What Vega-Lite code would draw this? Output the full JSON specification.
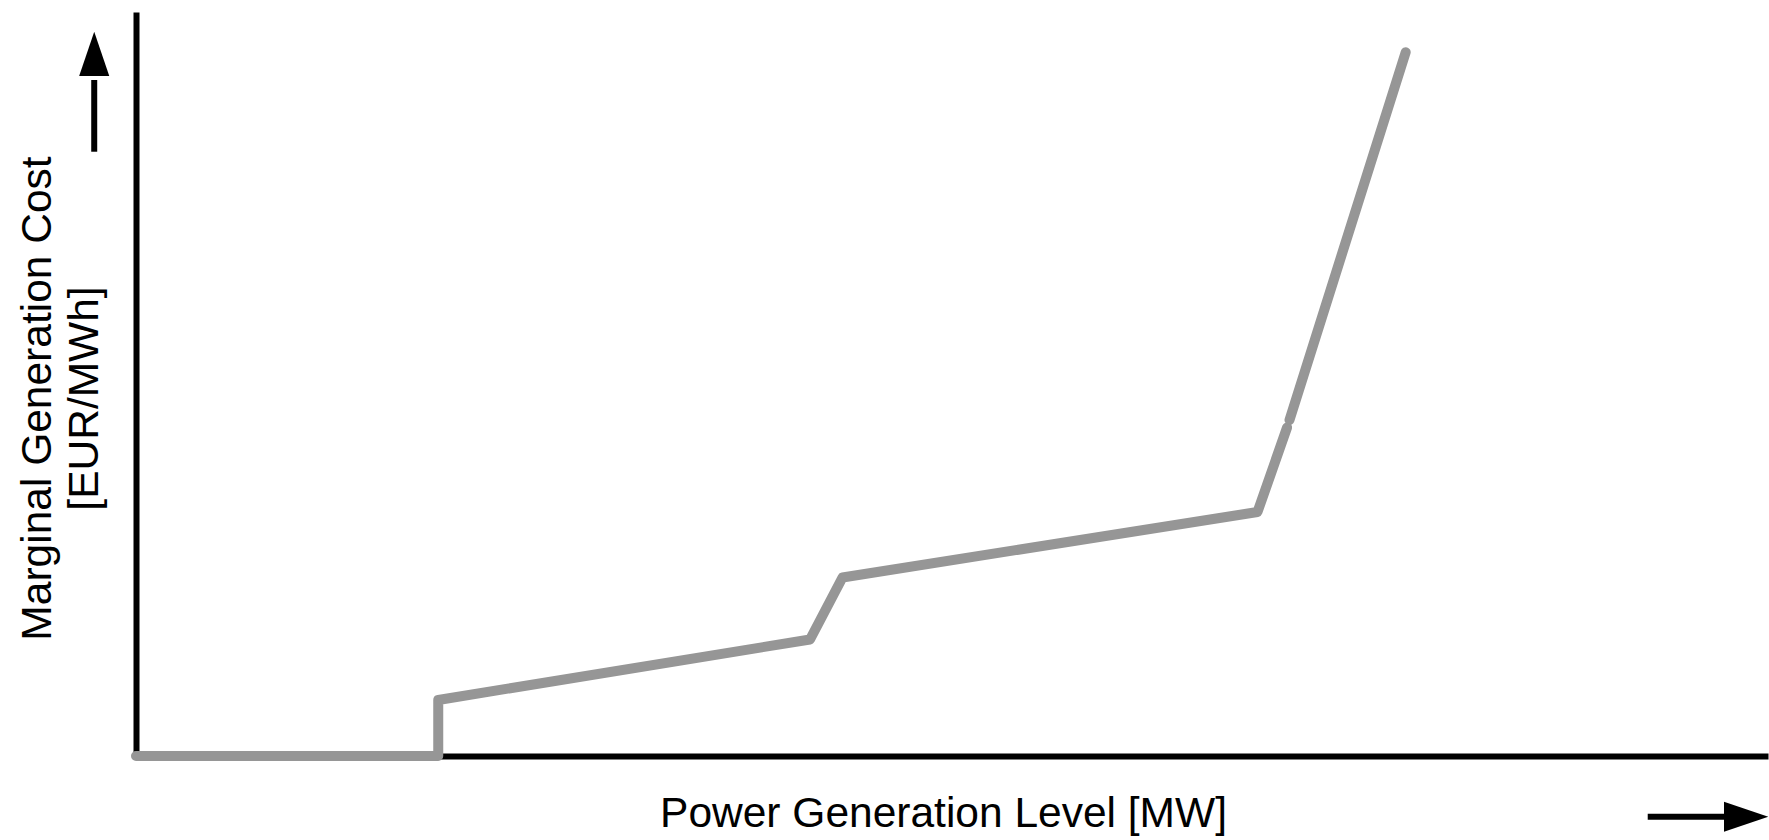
{
  "$schema": "https://vega.github.io/schema/vega-lite/v6.json",
  "width": 1632,
  "height": 744,
  "autosize": {"type": "none"},
  "padding": {"left": 136, "top": 12, "right": 1, "bottom": 84},
  "background": "white",
  "config": {
    "view": {"stroke": null},
    "axis": {
      "domain": true,
      "domainColor": "black",
      "domainWidth": 6,
      "ticks": false,
      "labels": false,
      "grid": false,
      "titleFont": "Liberation Sans",
      "titleFontWeight": "normal",
      "titleColor": "black",
      "titleFontSize": 42.5
    }
  },
  "data": {
    "values": [
      {"part": "curve", "seg": "a", "i": 1, "x": 0, "y": 0},
      {"part": "curve", "seg": "a", "i": 2, "x": 18.52, "y": 0},
      {"part": "curve", "seg": "a", "i": 3, "x": 18.52, "y": 7.53},
      {"part": "curve", "seg": "a", "i": 4, "x": 41.3, "y": 15.66},
      {"part": "curve", "seg": "a", "i": 5, "x": 43.29, "y": 23.99},
      {"part": "curve", "seg": "a", "i": 6, "x": 68.72, "y": 32.8},
      {"part": "curve", "seg": "a", "i": 7, "x": 70.53, "y": 44.15},
      {"part": "curve", "seg": "b", "i": 8, "x": 70.68, "y": 45.16},
      {"part": "curve", "seg": "b", "i": 9, "x": 77.8, "y": 94.6},
      {"part": "upShaft", "x": -2.56, "y": 81.22, "y2": 90.86},
      {"part": "upHead", "x": -2.56, "y": 94.38},
      {"part": "rightShaft", "x": 92.63, "x2": 97.55, "y": -8.16},
      {"part": "rightHead", "x": 98.66, "y": -8.16}
    ]
  },
  "encoding": {
    "x": {
      "field": "x",
      "type": "quantitative",
      "scale": {"domain": [0, 100], "nice": false, "zero": false},
      "axis": {
        "title": "Power Generation Level [MW]",
        "titleX": 807,
        "titleY": 70,
        "titleAlign": "center",
        "titleBaseline": "alphabetic"
      }
    },
    "y": {
      "field": "y",
      "type": "quantitative",
      "scale": {"domain": [0, 100], "nice": false, "zero": false},
      "axis": {
        "title": ["Marginal Generation Cost", "[EUR/MWh]"],
        "titleAngle": -90,
        "titleX": -85.5,
        "titleY": 386,
        "titleAlign": "center",
        "titleBaseline": "alphabetic",
        "titleLineHeight": 47
      }
    }
  },
  "layer": [
    {
      "transform": [{"filter": "datum.part === 'curve'"}],
      "mark": {"type": "line", "color": "#969696", "strokeWidth": 10, "strokeCap": "round", "strokeJoin": "round"},
      "encoding": {
        "detail": {"field": "seg", "type": "nominal"},
        "order": {"field": "i", "type": "quantitative"}
      }
    },
    {
      "transform": [{"filter": "datum.part === 'upShaft'"}],
      "mark": {"type": "rule", "color": "black", "strokeWidth": 6, "strokeCap": "butt"},
      "encoding": {"y2": {"field": "y2"}}
    },
    {
      "transform": [{"filter": "datum.part === 'rightShaft'"}],
      "mark": {"type": "rule", "color": "black", "strokeWidth": 6, "strokeCap": "butt"},
      "encoding": {"x2": {"field": "x2"}}
    },
    {
      "transform": [{"filter": "datum.part === 'upHead'"}],
      "mark": {"type": "point", "shape": "M0,-1L-0.68,1L0.68,1Z", "size": 1962, "filled": true, "color": "black", "opacity": 1, "strokeWidth": 0}
    },
    {
      "transform": [{"filter": "datum.part === 'rightHead'"}],
      "mark": {"type": "point", "shape": "M0,-1L-0.68,1L0.68,1Z", "size": 1962, "angle": 90, "filled": true, "color": "black", "opacity": 1, "strokeWidth": 0}
    }
  ]
}
